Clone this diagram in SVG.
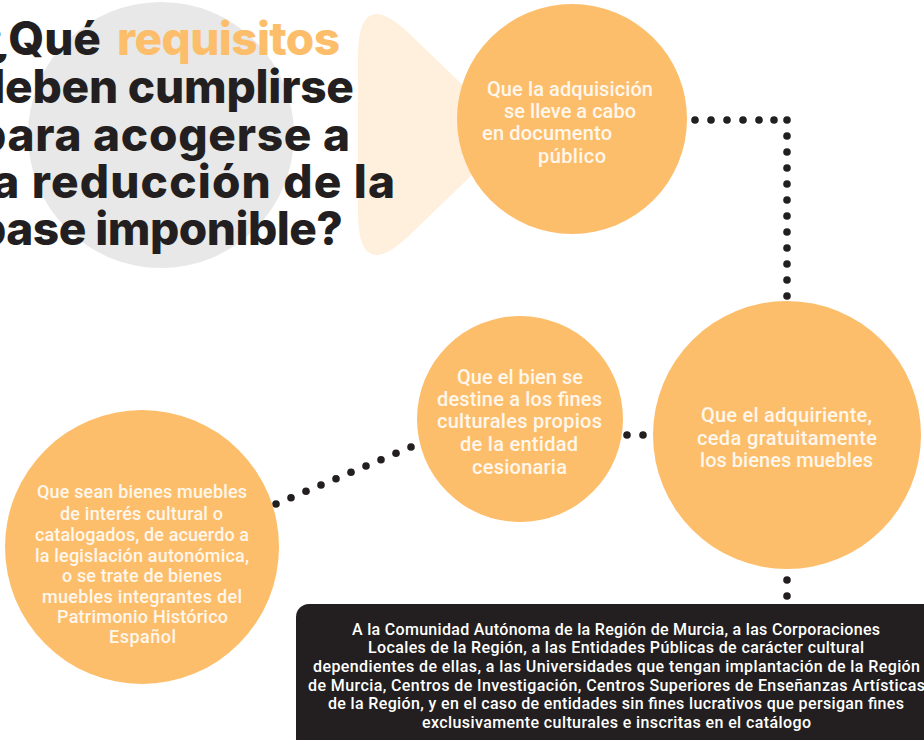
<svg xmlns="http://www.w3.org/2000/svg" width="924" height="740" viewBox="0 0 924 740">
<style>
.bg{fill:#ffffff}
.t{font-family:Inter,Lato,"Liberation Sans",sans-serif;font-weight:800;font-size:46px;fill:#231f20}
.hl{fill:#fdbe6b}
.node{fill:#fdbe6b}
.n{font-family:Roboto,"Liberation Sans",sans-serif;font-weight:500;font-size:20px;fill:#fff7ec;text-anchor:middle}
.s{font-size:18px}
.b{font-size:16px;fill:#ffffff}
.dot{fill:#231f20}
</style>
<rect class="bg" x="0" y="0" width="924" height="740"/>
<g id="decor">
  <circle cx="161" cy="135" r="133" fill="#e8e8e8"/>
  <path d="M358,57 L358,212 Q358,285 410.5,234.3 L514,134.5 L410.5,34.7 Q358,-16 358,57 Z" fill="#fef0dc"/>
</g>
<g id="title">
  <text class="t" x="101" y="55" text-anchor="end">¿Qué</text>
  <text class="t hl" x="117" y="55" textLength="223">requisitos</text>
  <text class="t" x="-24" y="103" textLength="378">deben cumplirse</text>
  <text class="t" x="-23" y="151" textLength="373">para acogerse a</text>
  <text class="t" x="-22" y="198" textLength="417">la reducción de la</text>
  <text class="t" x="-23" y="245" textLength="366">base imponible?</text>
</g>
<g id="connectors">
  <circle class="dot" cx="695" cy="120" r="3.8"/>
  <circle class="dot" cx="711" cy="120" r="3.8"/>
  <circle class="dot" cx="727" cy="120" r="3.8"/>
  <circle class="dot" cx="743" cy="120" r="3.8"/>
  <circle class="dot" cx="759" cy="120" r="3.8"/>
  <circle class="dot" cx="774" cy="120" r="3.8"/>
  <circle class="dot" cx="787" cy="120" r="3.8"/>
  <circle class="dot" cx="787" cy="136" r="3.8"/>
  <circle class="dot" cx="787" cy="152" r="3.8"/>
  <circle class="dot" cx="787" cy="168" r="3.8"/>
  <circle class="dot" cx="787" cy="184" r="3.8"/>
  <circle class="dot" cx="787" cy="200" r="3.8"/>
  <circle class="dot" cx="787" cy="216" r="3.8"/>
  <circle class="dot" cx="787" cy="232" r="3.8"/>
  <circle class="dot" cx="787" cy="248" r="3.8"/>
  <circle class="dot" cx="787" cy="264" r="3.8"/>
  <circle class="dot" cx="787" cy="280" r="3.8"/>
  <circle class="dot" cx="787" cy="296" r="3.8"/>
  <circle class="dot" cx="627" cy="435" r="3.8"/>
  <circle class="dot" cx="643" cy="435" r="3.8"/>
  <circle class="dot" cx="276" cy="504" r="3.8"/>
  <circle class="dot" cx="291" cy="497.7" r="3.8"/>
  <circle class="dot" cx="306" cy="491.3" r="3.8"/>
  <circle class="dot" cx="321" cy="485" r="3.8"/>
  <circle class="dot" cx="336" cy="478.7" r="3.8"/>
  <circle class="dot" cx="351" cy="472.3" r="3.8"/>
  <circle class="dot" cx="366" cy="466" r="3.8"/>
  <circle class="dot" cx="381" cy="459.7" r="3.8"/>
  <circle class="dot" cx="396" cy="453.3" r="3.8"/>
  <circle class="dot" cx="411" cy="447" r="3.8"/>
  <circle class="dot" cx="787" cy="580" r="3.8"/>
  <circle class="dot" cx="787" cy="596" r="3.8"/>
</g>
<g id="node-documento">
  <circle class="node" cx="572" cy="119" r="115"/>
  <text class="n" x="570" y="96" textLength="166">Que la adquisición</text>
  <text class="n" x="570" y="118" textLength="132">se lleve a cabo</text>
  <text class="n" x="547" y="140" textLength="130">en documento</text>
  <text class="n" x="572" y="163" textLength="68">público</text>
</g>
<g id="node-adquiriente">
  <circle class="node" cx="787" cy="435" r="134"/>
  <text class="n" x="786.5" y="422" textLength="171">Que el adquiriente,</text>
  <text class="n" x="787" y="445" textLength="180">ceda gratuitamente</text>
  <text class="n" x="786.5" y="467" textLength="173">los bienes muebles</text>
</g>
<g id="node-fines">
  <circle class="node" cx="520" cy="419" r="103"/>
  <text class="n" x="520" y="384" textLength="126">Que el bien se</text>
  <text class="n" x="519.5" y="406" textLength="165">destine a los fines</text>
  <text class="n" x="519.5" y="428" textLength="165">culturales propios</text>
  <text class="n" x="519" y="451" textLength="118">de la entidad</text>
  <text class="n" x="519.5" y="474" textLength="95">cesionaria</text>
</g>
<g id="node-bienes">
  <circle class="node" cx="142" cy="547" r="137"/>
  <text class="n s" x="142" y="498" textLength="210">Que sean bienes muebles</text>
  <text class="n s" x="141.5" y="520" textLength="163">de interés cultural o</text>
  <text class="n s" x="142" y="541" textLength="214">catalogados, de acuerdo a</text>
  <text class="n s" x="142" y="562" textLength="214">la legislación autonómica,</text>
  <text class="n s" x="142" y="582" textLength="160">o se trate de bienes</text>
  <text class="n s" x="142" y="603" textLength="200">muebles integrantes del</text>
  <text class="n s" x="142.5" y="623" textLength="171">Patrimonio Histórico</text>
  <text class="n s" x="142.5" y="643" textLength="67">Español</text>
</g>
<g id="node-entidades">
  <rect x="296" y="604" width="660" height="170" rx="13" fill="#231f20"/>
  <text class="n b" x="616" y="635" textLength="528">A la Comunidad Autónoma de la Región de Murcia, a las Corporaciones</text>
  <text class="n b" x="616" y="653" textLength="496">Locales de la Región, a las Entidades Públicas de carácter cultural</text>
  <text class="n b" x="616.5" y="672" textLength="607">dependientes de ellas, a las Universidades que tengan implantación de la Región</text>
  <text class="n b" x="616.5" y="691" textLength="617">de Murcia, Centros de Investigación, Centros Superiores de Enseñanzas Artísticas</text>
  <text class="n b" x="616" y="709" textLength="576">de la Región, y en el caso de entidades sin fines lucrativos que persigan fines</text>
  <text class="n b" x="616.5" y="728" textLength="389">exclusivamente culturales e inscritas en el catálogo</text>
</g>
</svg>
